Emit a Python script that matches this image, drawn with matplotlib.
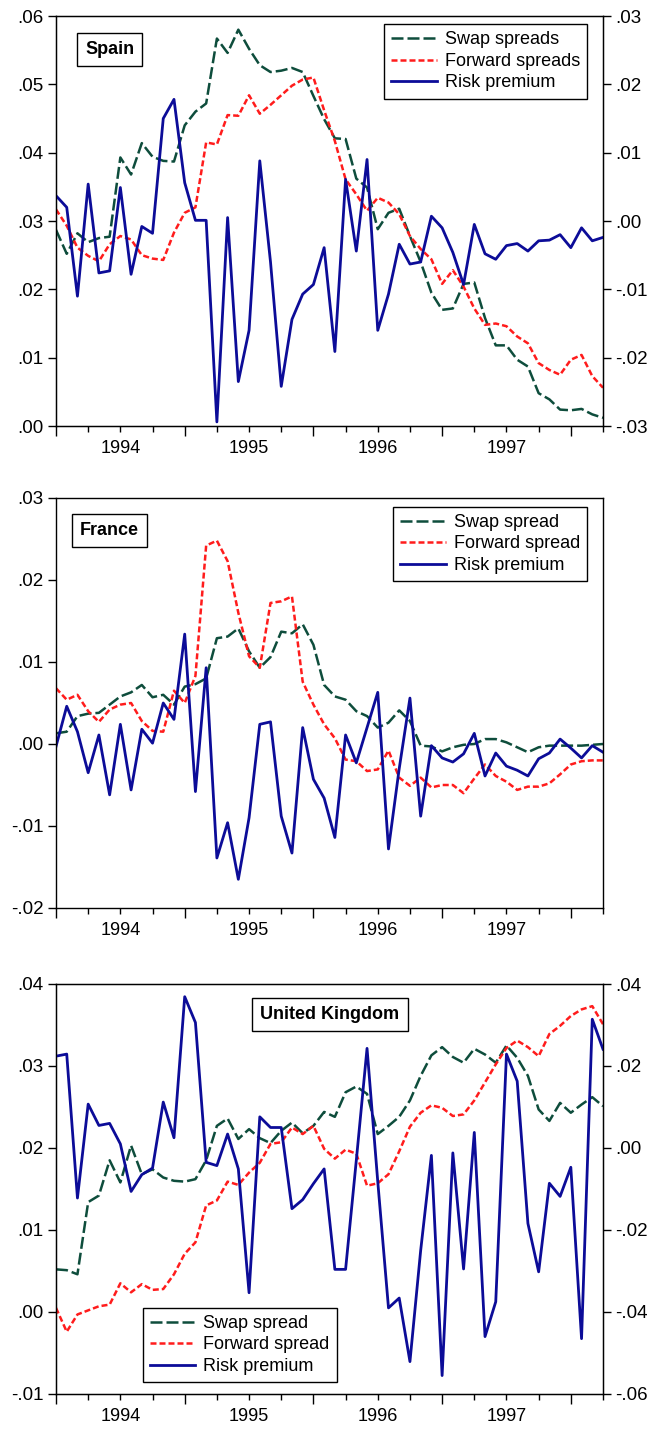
import numpy as np
import matplotlib
matplotlib.use("Agg")
import matplotlib.pyplot as plt

plt.rcParams['font.family'] = ['Liberation Sans', 'DejaVu Sans']

# monthly observations 1994M01 - 1998M04
n_obs = 52
dates = 1994 + np.arange(n_obs) / 12.0
year_labels = [1994, 1995, 1996, 1997]

spain_swap = [.0287, .0252, .0282, .0269, .0275, .0277, .0393, .0368, .0414, .0394, .0388, .0387,
              .0440, .0460, .0472, .0567, .0546, .0580, .0552, .0528, .0518, .0520, .0524, .0518,
              .0483, .0449, .0421, .0420, .0362, .0349, .0288, .0312, .0318, .0278, .0240, .0195,
              .0170, .0172, .0208, .0210, .0158, .0118, .0118, .0097, .0087, .0048, .0039, .0024,
              .0023, .0025, .0017, .0012]
spain_fwd = [.0317, .0293, .0261, .0249, .0241, .0266, .0278, .0273, .0250, .0245, .0243, .0283,
             .0312, .0320, .0415, .0412, .0455, .0454, .0484, .0457, .0470, .0484, .0498, .0507,
             .0510, .0462, .0417, .0361, .0339, .0315, .0334, .0327, .0310, .0278, .0259, .0244,
             .0208, .0228, .0204, .0172, .0148, .0150, .0146, .0131, .0121, .0092, .0082, .0075,
             .0097, .0104, .0073, .0056]
spain_rp = [.0037, .0020, -.0110, .0054, -.0076, -.0073, .0049, -.0078, -.0008, -.0018, .0150, .0178,
            .0056, .0001, .0001, -.0294, .0005, -.0235, -.0160, .0088, -.0060, -.0242, -.0144, -.0107,
            -.0093, -.0039, -.0191, .0061, -.0044, .0090, -.0160, -.0107, -.0034, -.0063, -.0060, .0007,
            -.0010, -.0046, -.0093, -.0005, -.0048, -.0056, -.0036, -.0033, -.0044, -.0029, -.0028, -.0020,
            -.0039, -.0010, -.0029, -.0024]

france_swap = [.0013, .0015, .0034, .0037, .0038, .0048, .0058, .0063, .0072, .0057, .0060, .0048,
               .0070, .0073, .0080, .0129, .0131, .0141, .0113, .0093, .0106, .0137, .0135, .0146,
               .0121, .0072, .0058, .0054, .0040, .0034, .0020, .0026, .0041, .0028, -.0002, -.0003,
               -.0009, -.0004, -.0001, .0000, .0006, .0006, .0002, -.0004, -.0010, -.0004, -.0002, -.0002,
               -.0002, -.0002, -.0001, .0000]
france_fwd = [.0068, .0054, .0060, .0040, .0027, .0042, .0048, .0050, .0028, .0016, .0015, .0065,
              .0050, .0083, .0242, .0248, .0223, .0160, .0107, .0093, .0172, .0174, .0180, .0076,
              .0048, .0024, .0007, -.0019, -.0021, -.0033, -.0031, -.0008, -.0041, -.0051, -.0041, -.0053,
              -.0050, -.0050, -.0060, -.0042, -.0025, -.0039, -.0046, -.0056, -.0052, -.0052, -.0048, -.0037,
              -.0025, -.0021, -.0020, -.0020]
france_rp = [-.0003, .0046, .0015, -.0035, .0011, -.0062, .0024, -.0056, .0018, .0001, .0050, .0030,
             .0134, -.0058, .0093, -.0139, -.0096, -.0165, -.0090, .0024, .0027, -.0088, -.0133, .0020,
             -.0043, -.0066, -.0114, .0011, -.0023, .0020, .0063, -.0128, -.0030, .0056, -.0088, -.0002,
             -.0017, -.0022, -.0012, .0013, -.0039, -.0011, -.0027, -.0032, -.0039, -.0018, -.0011, .0006,
             -.0005, -.0017, -.0002, -.0010]

uk_swap = [.0052, .0051, .0046, .0134, .0142, .0185, .0158, .0203, .0168, .0174, .0164, .0160,
           .0159, .0162, .0185, .0227, .0236, .0211, .0223, .0212, .0206, .0221, .0231, .0218,
           .0227, .0244, .0238, .0268, .0275, .0266, .0217, .0227, .0238, .0258, .0288, .0313,
           .0323, .0311, .0304, .0321, .0314, .0304, .0325, .0310, .0288, .0247, .0233, .0255,
           .0243, .0253, .0262, .0251]
uk_fwd = [.0005, -.0024, -.0003, .0002, .0007, .0009, .0035, .0024, .0034, .0027, .0028, .0046,
          .0071, .0085, .0130, .0136, .0159, .0155, .0170, .0182, .0205, .0207, .0225, .0217,
          .0227, .0199, .0187, .0198, .0193, .0154, .0157, .0168, .0196, .0226, .0243, .0252,
          .0249, .0239, .0241, .0258, .0280, .0302, .0322, .0331, .0323, .0312, .0339, .0349,
          .0361, .0369, .0373, .0351]
uk_rp = [.0224, .0229, -.0122, .0107, .0055, .0060, .0010, -.0106, -.0065, -.0049, .0112, .0025,
         .0369, .0306, -.0035, -.0043, .0034, -.0051, -.0353, .0076, .0050, .0050, -.0148, -.0126,
         -.0087, -.0051, -.0296, -.0296, -.0030, .0243, -.0082, -.0390, -.0366, -.0521, -.0250, -.0018,
         -.0555, -.0012, -.0295, .0038, -.0460, -.0375, .0229, .0163, -.0184, -.0302, -.0086, -.0118,
         -.0047, -.0465, .0314, .0241]

GREEN = '#0e4d3c'
RED = '#ff1c1c'
BLUE = '#0c0c98'
FS_TICK = 13.5
FS_YEAR = 13
FS_TEXT = 13


def dot_fmt(v, pos=None):
    s = f"{v:.2f}"
    if s.startswith("-0."):
        s = "-" + s[2:]
    elif s.startswith("0."):
        s = s[1:]
    if s == "-.00":
        s = ".00"
    return s


def setup_axes(ax, ylim, ystep):
    ax.set_xlim(1994, 1998.25)
    ax.set_xticks(np.arange(1994, 1998.1, 1.0))
    ax.set_xticks(np.arange(1994, 1998.26, 0.25), minor=True)
    ax.tick_params(axis='x', which='major', length=7, width=1, labelbottom=False)
    ax.tick_params(axis='x', which='minor', length=4.5, width=1)
    for yr in year_labels:
        ax.text(yr + 0.5, -0.034, str(yr), transform=ax.get_xaxis_transform(),
                ha='center', va='top', fontsize=FS_YEAR)
    ax.set_ylim(*ylim)
    ax.set_yticks(np.arange(ylim[0], ylim[1] + ystep / 2, ystep))
    ax.yaxis.set_major_formatter(dot_fmt)
    ax.tick_params(axis='y', length=6, width=1, labelsize=FS_TICK, pad=3)
    for sp in ax.spines.values():
        sp.set_linewidth(1.0)


def right_axis(ax, ylim, ystep):
    ax2 = ax.twinx()
    ax2.set_ylim(*ylim)
    ax2.set_yticks(np.arange(ylim[0], ylim[1] + ystep / 2, ystep))
    ax2.yaxis.set_major_formatter(dot_fmt)
    ax2.tick_params(axis='y', length=6, width=1, labelsize=FS_TICK, pad=3)
    ax2.set_xlim(1994, 1998.25)
    return ax2


def draw_panel(ax, swap, fwd, rp, rp_ax, names, title, title_xy, leg_loc, leg_anchor):
    h1, = ax.plot(dates, swap, color=GREEN, lw=1.8, dashes=(4.8, 1.6), label=names[0])
    h2, = ax.plot(dates, fwd, color=RED, lw=1.8, dashes=(2.4, 1.2), label=names[1])
    h3, = rp_ax.plot(dates, rp, color=BLUE, lw=2.0, label=names[2])
    top = rp_ax
    leg = top.legend(handles=[h1, h2, h3], loc=leg_loc, bbox_to_anchor=leg_anchor,
                     borderaxespad=0, fontsize=FS_TEXT, handlelength=2.5, handletextpad=0.45,
                     labelspacing=0.25, borderpad=0.4, fancybox=False, framealpha=1,
                     edgecolor='black')
    leg.get_frame().set_linewidth(1.0)
    top.text(title_xy[0], title_xy[1], title, transform=top.transAxes, ha='center', va='center',
             fontsize=FS_TEXT, fontweight='bold',
             bbox=dict(boxstyle='square,pad=0.45', facecolor='white', edgecolor='black', lw=1.0))


fig = plt.figure(figsize=(6.51, 14.29), dpi=100)
ax_w = 547 / 651
ax_h = 410 / 1429
left = 56 / 651

names_es = ['Swap spreads', 'Forward spreads', 'Risk premium']
names_other = ['Swap spread', 'Forward spread', 'Risk premium']

# Spain
ax1 = fig.add_axes([left, 1 - 426 / 1429, ax_w, ax_h])
setup_axes(ax1, (0.0, 0.06), 0.01)
ax1b = right_axis(ax1, (-0.03, 0.03), 0.01)
draw_panel(ax1, spain_swap, spain_fwd, spain_rp, ax1b, names_es, 'Spain',
           (0.098, 0.918), 'upper right', (0.971, 0.980))

# France
ax2 = fig.add_axes([left, 1 - 908 / 1429, ax_w, ax_h])
setup_axes(ax2, (-0.02, 0.03), 0.01)
draw_panel(ax2, france_swap, france_fwd, france_rp, ax2, names_other, 'France',
           (0.098, 0.921), 'upper right', (0.971, 0.979))

# United Kingdom
ax3 = fig.add_axes([left, 1 - 1394 / 1429, ax_w, ax_h])
setup_axes(ax3, (-0.01, 0.04), 0.01)
ax3b = right_axis(ax3, (-0.06, 0.04), 0.02)
draw_panel(ax3, uk_swap, uk_fwd, uk_rp, ax3b, names_other, 'United Kingdom',
           (0.501, 0.926), 'lower left', (0.159, 0.029))

fig.savefig('out.png', dpi=100)
